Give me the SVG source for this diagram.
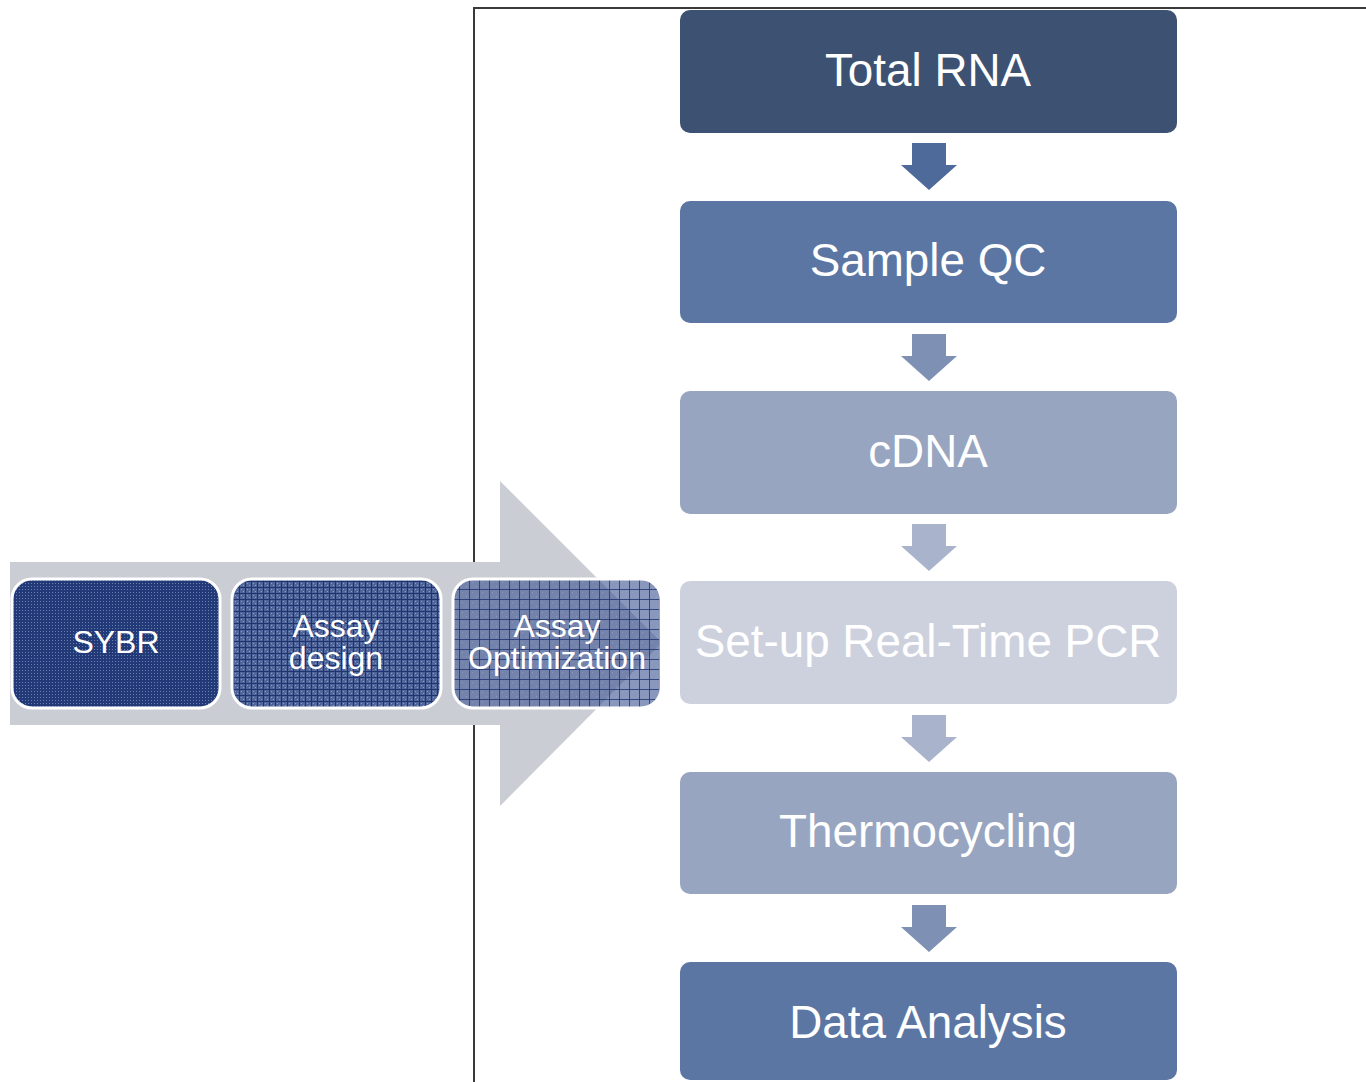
<svg xmlns="http://www.w3.org/2000/svg" width="1366" height="1082" viewBox="0 0 1366 1082">
<style>
.main{font-family:"Liberation Sans",Arial,sans-serif;font-size:45.8px;fill:#ffffff;text-anchor:middle}
.sub{font-family:"Liberation Sans",Arial,sans-serif;font-size:32px;fill:#ffffff;text-anchor:middle}
.lbox{stroke:#ffffff;stroke-width:3}
.frame{fill:none;stroke:#3a3a3a;stroke-width:2}
</style>
<defs>
<pattern id="dots" width="3" height="3" patternUnits="userSpaceOnUse">
<rect width="3" height="3" fill="#223a78"/>
<rect x="1" y="1" width="1" height="1" fill="#6b7fae"/>
</pattern>
<pattern id="grid" width="6" height="6" patternUnits="userSpaceOnUse">
<rect width="6" height="6" fill="#50669a"/>
<rect x="1" y="1" width="1" height="1" fill="#8a9bc2"/>
<rect x="3" y="3" width="1" height="1" fill="#8a9bc2"/>
<rect x="5" y="0" width="1" height="6" fill="#1f3370"/>
<rect x="0" y="5" width="6" height="1" fill="#1f3370"/>
</pattern>
<pattern id="grid2" width="10" height="10" patternUnits="userSpaceOnUse">
<rect width="10" height="10" fill="#3b5190" fill-opacity="0.6"/>
<rect x="2" y="2" width="1" height="1" fill="#9aa8c8" fill-opacity="0.6"/>
<rect x="6" y="6" width="1" height="1" fill="#9aa8c8" fill-opacity="0.6"/>
<rect x="9" y="0" width="1" height="10" fill="#1f3370" fill-opacity="0.8"/>
<rect x="0" y="9" width="10" height="1" fill="#1f3370" fill-opacity="0.8"/>
</pattern>
</defs>
<path class="frame" d="M474,1082 V8 H1366"/>
<g id="big-arrow">
<polygon points="10,562 500,562 500,481 662,643 500,806 500,725 10,725" fill="#cbcdd4"/>
</g>
<g id="connectors">
<polygon points="912,143 946,143 946,165 957,165 929,190 901,165 912,165" fill="#4e6a9a"/>
<polygon points="912,334 946,334 946,356 957,356 929,381 901,356 912,356" fill="#7e91b5"/>
<polygon points="912,524 946,524 946,546 957,546 929,571 901,546 912,546" fill="#a9b4cc"/>
<polygon points="912,715 946,715 946,737 957,737 929,762 901,737 912,737" fill="#a9b4cc"/>
<polygon points="912,905 946,905 946,927 957,927 929,952 901,927 912,927" fill="#7e91b5"/>
</g>
<g id="n-sybr">
<rect class="lbox" x="12" y="579" width="208" height="129" rx="20" fill="url(#dots)"/>
<text class="sub" x="116" y="653">SYBR</text>
</g>
<g id="n-assay-design">
<rect class="lbox" x="232" y="579" width="209" height="129" rx="20" fill="url(#grid)"/>
<text class="sub" x="336" y="637">Assay</text>
<text class="sub" x="336" y="669">design</text>
</g>
<g id="n-assay-opt">
<rect class="lbox" x="453" y="579" width="208" height="129" rx="20" fill="url(#grid2)"/>
<text class="sub" x="557" y="637">Assay</text>
<text class="sub" x="557" y="669">Optimization</text>
</g>
<g id="n-total-rna">
<rect x="680" y="10" width="497" height="123" rx="10" fill="#3d5173"/>
<text class="main" x="928" y="86">Total RNA</text>
</g>
<g id="n-sample-qc">
<rect x="680" y="201" width="497" height="122" rx="10" fill="#5c76a4"/>
<text class="main" x="928" y="276">Sample QC</text>
</g>
<g id="n-cdna">
<rect x="680" y="391" width="497" height="123" rx="10" fill="#97a5c0"/>
<text class="main" x="928" y="467">cDNA</text>
</g>
<g id="n-setup">
<rect x="680" y="581" width="497" height="123" rx="10" fill="#cdd1de"/>
<text class="main" x="928" y="657">Set-up Real-Time PCR</text>
</g>
<g id="n-thermo">
<rect x="680" y="772" width="497" height="122" rx="10" fill="#97a5c0"/>
<text class="main" x="928" y="847">Thermocycling</text>
</g>
<g id="n-data">
<rect x="680" y="962" width="497" height="118" rx="10" fill="#5c76a4"/>
<text class="main" x="928" y="1038">Data Analysis</text>
</g>
</svg>
